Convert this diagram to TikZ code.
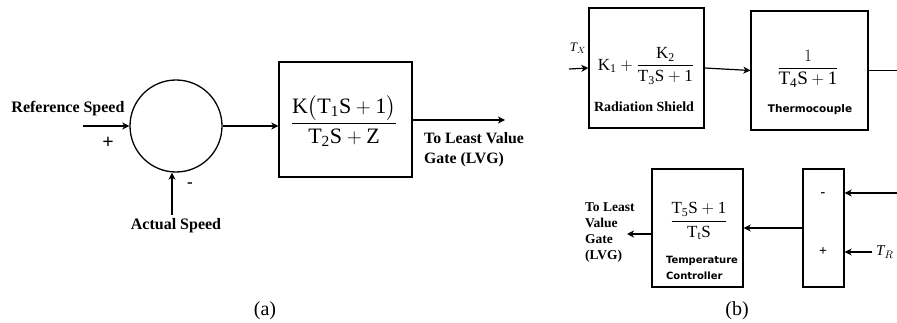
\documentclass[tikz,border=0pt]{standalone}
\usepackage{amsmath}
\usepackage{fontspec}
\setmainfont{Liberation Serif}
\setsansfont{DejaVu Sans}
\usetikzlibrary{arrows.meta, positioning}

\newcommand{\fs}[1]{\fontsize{#1}{#1}\selectfont}

\begin{document}
\begin{tikzpicture}[x=1pt, y=-1pt,
  blk/.style={draw, line width=1.3pt, inner sep=0pt},
  arr/.style={-{Stealth[length=7pt, width=7pt, inset=2pt]}, line width=1.2pt},
  lbl/.style={font=\bfseries\fs{16}, inner sep=0pt},
  small/.style={font=\bfseries\fs{12}, inner sep=0pt, align=left},
  tag/.style={font=\sffamily\bfseries\fs{10.5}, inner sep=0pt, align=left},
  tf/.style={inner sep=0pt}
]
\useasboundingbox (0,0) rectangle (897,323);

% (a) speed loop
\node[blk, circle, minimum size=92pt] (sum) at (176,126) {};
\coordinate (refin) at (83,126);
\coordinate (actin) at (172,215);
\node[lbl] (reflbl) at (68,109) {Reference Speed};
\node[lbl, font=\bfseries\fs{20}] (plus) at (108,143) {+};
\node[lbl, font=\bfseries\fs{17}] (minus) at (190,185) {-};
\node[lbl, anchor=north] (actlbl) at (176,218) {Actual Speed};
\draw[arr] (refin) -- (sum.west);
\draw[arr] (actin) -- (actin |- sum.south);

\node[blk, minimum width=133pt, minimum height=115pt] (gov) at (345.5,119.5) {};
\node[tf, font=\fs{22}] (govtf) at (344,121)
  {$\dfrac{\mathrm{K}\bigl(\mathrm{T_1S+1}\bigr)}{\mathrm{T_2S+Z}}$};
\coordinate (gate) at (505,120);
\node[lbl, anchor=north west, align=left, font=\bfseries\fontsize{15.8}{20}\selectfont]
  (gatelbl) at (424,132) {To Least Value\\Gate (LVG)};
\draw[arr] (sum.east) -- (sum.east -| gov.west);
\draw[arr] (gate -| gov.east) -- (gate);

% (b) temperature loop
\node[blk, minimum width=115pt, minimum height=120pt] (shield) at (646.5,68) {};
\node[blk, minimum width=117pt, minimum height=119pt] (thermo) at (809.5,70.5) {};
\node[tf, font=\fs{17}] (shieldtf) at (646,66)
  {$\mathrm{K_1}+\dfrac{\mathrm{K_2}}{\mathrm{T_3S+1}}$};
\node[lbl, font=\bfseries\fs{14}] (shieldlbl) at (644,107) {Radiation Shield};
\node[tf, font=\fs{19}] (thermotf) at (808,69) {$\dfrac{1}{\mathrm{T_4S+1}}$};
\node[tag] (thermolbl) at (810,110) {Thermocouple};
\coordinate (tx) at (569,69);
\node[tf, font=\fs{13}] (txlbl) at (578,48) {$\mathit{T}_{X}$};
\coordinate (thermoout) at (897,70.5);
\draw[arr] (tx) -- (shield.west);
\draw[arr] (shield.east) -- (thermo.west);
\draw[line width=1.2pt] (thermo.east) -- (thermoout);

\node[blk, minimum width=91pt, minimum height=118pt] (ctrl) at (697.5,228) {};
\node[blk, minimum width=41pt, minimum height=118pt] (cmp) at (823.5,228) {};
\node[tf, font=\fs{17}] (ctrltf) at (699,221) {$\dfrac{\mathrm{T_5S+1}}{\mathrm{T_tS}}$};
\node[tag, align=left, font=\sffamily\bfseries\fontsize{10}{16}\selectfont]
  (ctrllbl) at (702,268) {Temperature\\Controller};
\node[small, font=\bfseries\fs{14}] (cmpminus) at (823,195) {-};
\node[small, font=\bfseries\fs{14}] (cmpplus) at (823,252) {+};
\coordinate (fbin) at (897,193);
\coordinate (trin) at (872,252);
\node[tf, font=\fs{15}, anchor=west] (trlbl) at (876,252) {$\mathit{T}_{R}$};
\coordinate (lvgout) at (627,234);
\node[small, anchor=north west, font=\bfseries\fontsize{13.5}{16}\selectfont]
  (lvglbl) at (585,202) {To Least\\Value\\Gate\\(LVG)};
\draw[arr] (fbin) -- (fbin -| cmp.east);
\draw[arr] (trin) -- (trin -| cmp.east);
\draw[arr] (cmp.west) -- (ctrl.east);
\draw[arr] (lvgout -| ctrl.west) -- (lvgout);

% captions
\node[font=\fs{20}] (capa) at (265,311) {(a)};
\node[font=\fs{20}] (capb) at (737,311) {(b)};
\end{tikzpicture}
\end{document}
